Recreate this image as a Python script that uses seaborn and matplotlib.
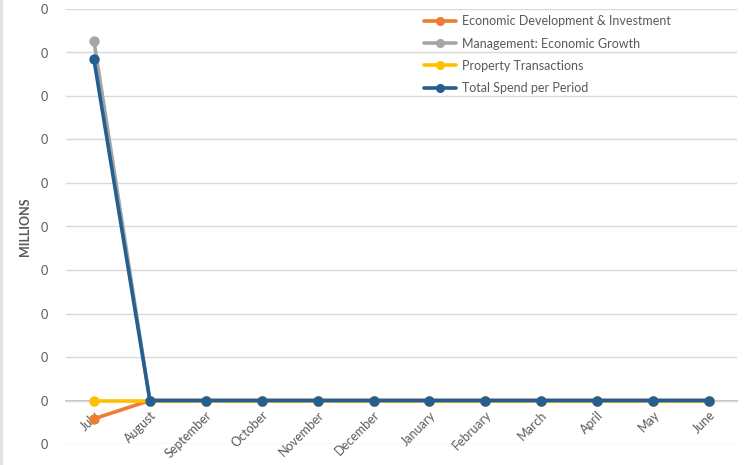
import pandas as pd
import numpy as np
import matplotlib.pyplot as plt
import seaborn as sns
from matplotlib.lines import Line2D
from matplotlib.ticker import FuncFormatter, MultipleLocator

sns.set_style("white")
plt.rcParams["font.family"] = ["Lato", "DejaVu Sans"]

months = [
    "July", "August", "September", "October", "November", "December",
    "January", "February", "March", "April", "May", "June",
]
econ_dev = [-21000, 0, 0, 0, 0, 0, 0, 0, 0, 0, 0, 0]
mgmt_growth = [413000, 0, 0, 0, 0, 0, 0, 0, 0, 0, 0, 0]
property_tx = [0, 0, 0, 0, 0, 0, 0, 0, 0, 0, 0, 0]
total_spend = [392000, 0, 0, 0, 0, 0, 0, 0, 0, 0, 0, 0]

series_names = [
    "Economic Development & Investment",
    "Management: Economic Growth",
    "Property Transactions",
    "Total Spend per Period",
]
series_colors = ["#ED7D31", "#A5A5A5", "#FFC000", "#255E91"]

df = pd.DataFrame(
    {
        "month": months * 4,
        "series": np.repeat(series_names, len(months)),
        "value": econ_dev + mgmt_growth + property_tx + total_spend,
    }
)

fig = plt.figure(figsize=(7.47, 4.65), dpi=100)
ax = fig.add_axes([66 / 747, 1 - 444 / 465, 671 / 747, 435 / 465])

sns.pointplot(
    data=df,
    x="month",
    y="value",
    hue="series",
    order=months,
    hue_order=series_names,
    palette=series_colors,
    errorbar=None,
    markers="o",
    markersize=5.5,
    linewidth=2.6,
    ax=ax,
    legend=False,
)

ax.set_xlim(-0.5, len(months) - 0.5)
ax.set_ylim(-50000, 450000)
ax.yaxis.set_major_locator(MultipleLocator(50000))
ax.yaxis.set_major_formatter(FuncFormatter(lambda v, p: f"{int(round(v / 1e6))}"))
ax.grid(axis="y", color="#D9D9D9", linewidth=1)
ax.set_axisbelow(True)

for side in ["left", "right", "top"]:
    ax.spines[side].set_visible(False)
ax.spines["bottom"].set_position(("data", 0))
ax.spines["bottom"].set_color("#BFBFBF")
ax.spines["bottom"].set_linewidth(1.3)
ax.spines["bottom"].set_zorder(0.5)

ax.tick_params(axis="y", length=0, pad=13, labelsize=9, labelcolor="#595959")
ax.tick_params(axis="x", length=0, pad=6, labelsize=9, labelcolor="#595959")
for lab in ax.get_xticklabels():
    lab.set_rotation(45)
    lab.set_ha("right")
    lab.set_rotation_mode("anchor")

ax.set_xlabel("")
ax.set_ylabel("MILLIONS", fontsize=9, fontweight="bold", color="#595959", labelpad=7)

# light frame edge at the left of the chart area
fig.add_artist(Line2D([0.002, 0.002], [0, 1], color="#E3E3E3", linewidth=2.5,
                      transform=fig.transFigure))

handles = [
    Line2D([0], [0], color=c, linewidth=2.6, marker="o", markersize=5.5)
    for c in series_colors
]
fig.legend(
    handles,
    series_names,
    loc="upper left",
    bbox_to_anchor=(418 / 747, 1 - 9 / 465),
    frameon=False,
    fontsize=9,
    handlelength=2.5,
    handletextpad=0.5,
    labelspacing=0.82,
    borderpad=0,
    labelcolor="#595959",
)

fig.savefig("out.png", dpi=100)
